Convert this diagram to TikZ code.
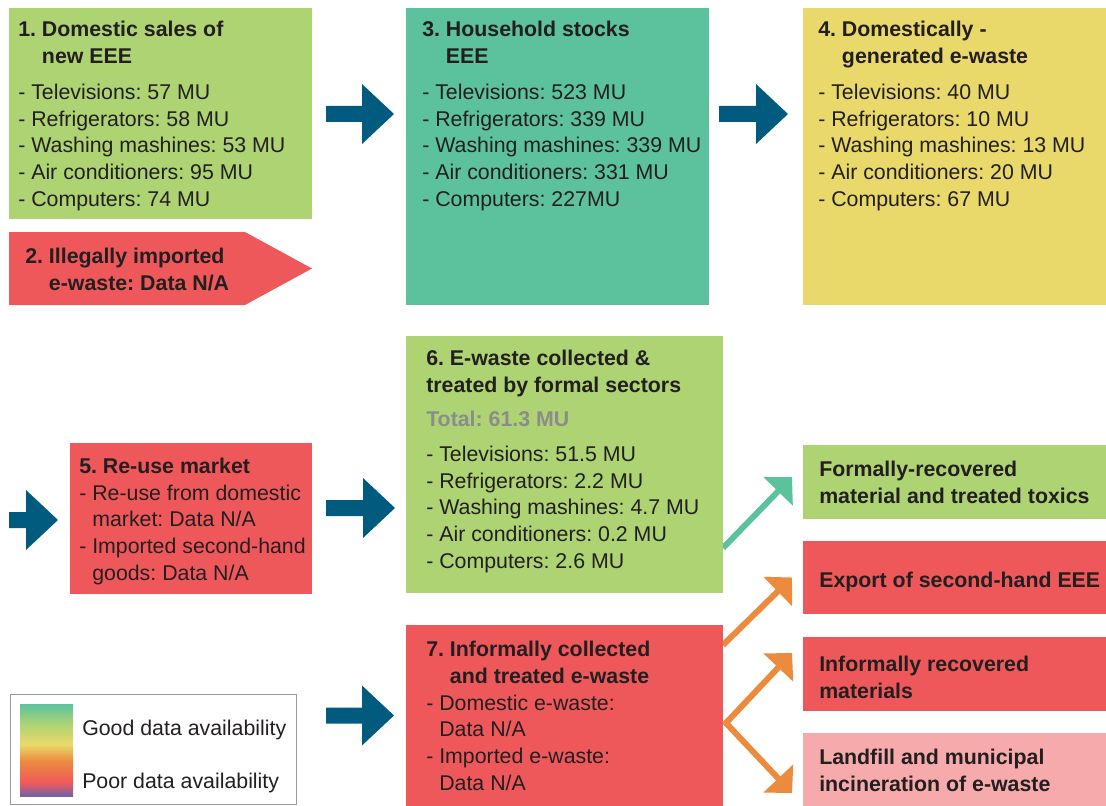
\documentclass[tikz,border=0pt]{standalone}
\usepackage{fontspec}
\setmainfont{Liberation Sans}
\frenchspacing
\usetikzlibrary{arrows.meta}
\usetikzlibrary{calc}
\usetikzlibrary{fit}

\definecolor{boxgreen}{HTML}{AED373}
\definecolor{boxteal}{HTML}{5CC29E}
\definecolor{boxyellow}{HTML}{E9D96A}
\definecolor{boxred}{HTML}{EF585B}
\definecolor{boxpink}{HTML}{F6AAAB}
\definecolor{arrowblue}{HTML}{005B7F}
\definecolor{arroworange}{HTML}{EC8B3E}
\definecolor{textdark}{HTML}{231F20}
\definecolor{totalgray}{HTML}{8C8C8C}
\definecolor{legpurple}{HTML}{6E64AA}
\definecolor{legframe}{HTML}{9A9A9A}

\pgfdeclareverticalshading{availability}{100bp}{color(0bp)=(legpurple); color(25bp)=(legpurple); color(32bp)=(boxred); color(44bp)=(arroworange); color(53bp)=(boxyellow); color(64bp)=(boxgreen); color(75bp)=(boxteal); color(100bp)=(boxteal)}

\tikzset{
	box/.style={inner sep=0, outer sep=0},
	boxtext/.style={anchor=base west, align=left, inner sep=0, text=textdark, font=\fontsize{16}{20}\selectfont},
	boldtext/.style={boxtext, font=\fontsize{16}{20}\selectfont\bfseries},
	flowarrow/.style={line width=4.5pt, -{Triangle[length=15pt,width=30pt]}},
	forkarrow/.style={line width=4.5pt, line join=miter, {Triangle[length=15pt,width=30pt]}-{Triangle[length=15pt,width=30pt]}},
	pics/bigarrow/.style={code={
		\fill[arrowblue] (-#1,-8) -- (0,-8) -- (0,-30) -- (32,0) -- (0,30) -- (0,8) -- (-#1,8) -- cycle;
	}}
}

\begin{document}
\begin{tikzpicture}[x=0.75pt,y=-0.75pt]
	\useasboundingbox (0,0) rectangle (1106,806);

	%Output boxes on the right
	\node[box, fill=boxgreen, fit={(803,445) (1106,519)}] (formal) {};
	\node[box, fill=boxred, fit={(803,541) (1106,614)}] (export) {};
	\node[box, fill=boxred, fit={(803,637) (1106,711)}] (informal) {};
	\node[box, fill=boxpink, fit={(803,733) (1106,806)}] (landfill) {};

	%Thin arrows, drawn below the boxes 6 and 7
	\node[box, fit={(406,336) (723,593)}] (box6) {};
	\node[box, fit={(406,625) (723,806)}] (box7) {};
	\coordinate (fork) at ($(box7.south east)+(3,-83)$);
	\draw[flowarrow, draw=boxteal] ($(box6.south east)+(0,-45)$) -- ($(formal.west)+(-11,-5)$);
	\draw[flowarrow, draw=arroworange] ($(box7.north east)+(0,20)$) -- ($(export.west)+(-11,0)$);
	\draw[forkarrow, draw=arroworange] ($(informal.west)+(-11,-21)$) -- (fork) -- ($(landfill.west)+(-11,23.5)$);

	%Boxes
	\node[box, fill=boxgreen, fit={(9,8) (312,219)}] (box1) {};
	\fill[boxred] (9,232) -- (245,232) -- (312,268.5) -- (245,305) -- (9,305) -- cycle;
	\node[box, fill=boxteal, fit={(406,8) (709,305)}] (box3) {};
	\node[box, fill=boxyellow, fit={(803,8) (1106,305)}] (box4) {};
	\node[box, fill=boxred, fit={(70,443) (312,594)}] (box5) {};
	\fill[boxgreen] (box6.north west) rectangle (box6.south east);
	\fill[boxred] (box7.north west) rectangle (box7.south east);

	%Block arrows
	\pic at (362,114) {bigarrow=36};
	\pic at (756,114) {bigarrow=37};
	\pic at (26,520) {bigarrow=17};
	\pic at (363,508) {bigarrow=37};
	\pic at (362,715.5) {bigarrow=36};

	%Box texts (placed at the baseline of their last line)
	\node[boxtext] (txt1) at (18,206) {\textbf{1. Domestic sales of}\\
		\textbf{\phantom{1. }new EEE}\\[7pt]
		- Televisions: 57 MU\\
		- Refrigerators: 58 MU\\
		- Washing mashines: 53 MU\\
		- Air conditioners: 95 MU\\
		- Computers: 74 MU};
	\node[boldtext] (txt2) at (25,290) {2. Illegally imported\\
		\phantom{2. }e-waste: Data N/A};
	\node[boxtext] (txt3) at (422,206) {\textbf{3. Household stocks}\\
		\textbf{\phantom{3. }EEE}\\[7pt]
		- Televisions: 523 MU\\
		- Refrigerators: 339 MU\\
		- Washing mashines: 339 MU\\
		- Air conditioners: 331 MU\\
		- Computers: 227MU};
	\node[boxtext] (txt4) at (818,206) {\textbf{4. Domestically -}\\
		\textbf{\phantom{4. }generated e-waste}\\[7pt]
		- Televisions: 40 MU\\
		- Refrigerators: 10 MU\\
		- Washing mashines: 13 MU\\
		- Air conditioners: 20 MU\\
		- Computers: 67 MU};
	\node[boxtext] (txt5) at (79,580) {\textbf{5. Re-use market}\\
		- Re-use from domestic\\
		\phantom{- }market: Data N/A\\
		- Imported second-hand\\
		\phantom{- }goods: Data N/A};
	\node[boxtext] (txt6) at (426,568) {\textbf{6. E-waste collected \&}\\
		\textbf{treated by formal sectors}\\[6pt]
		\textcolor{totalgray}{\textbf{Total: 61.3 MU}}\\[6pt]
		- Televisions: 51.5 MU\\
		- Refrigerators: 2.2 MU\\
		- Washing mashines: 4.7 MU\\
		- Air conditioners: 0.2 MU\\
		- Computers: 2.6 MU};
	\node[boxtext] (txt7) at (426,790) {\textbf{7. Informally collected}\\
		\textbf{\phantom{7. }and treated e-waste}\\
		- Domestic e-waste:\\
		\phantom{- }Data N/A\\
		- Imported e-waste:\\
		\phantom{- }Data N/A};
	\node[boldtext] (txtformal) at (819,503) {Formally-recovered\\ material and treated toxics};
	\node[boldtext] (txtexport) at (819,587) {Export of second-hand EEE};
	\node[boldtext] (txtinformal) at (819,698) {Informally recovered\\ materials};
	\node[boldtext] (txtlandfill) at (819,791) {Landfill and municipal\\ incineration of e-waste};

	%Legend
	\draw[legframe, line width=0.75pt] (10,694) rectangle (296,804);
	\shade[shading=availability] (20,704) rectangle (73,796);
	\node[boxtext] (good) at (82,735) {Good data availability};
	\node[boxtext] (poor) at (82,788) {Poor data availability};
\end{tikzpicture}
\end{document}
